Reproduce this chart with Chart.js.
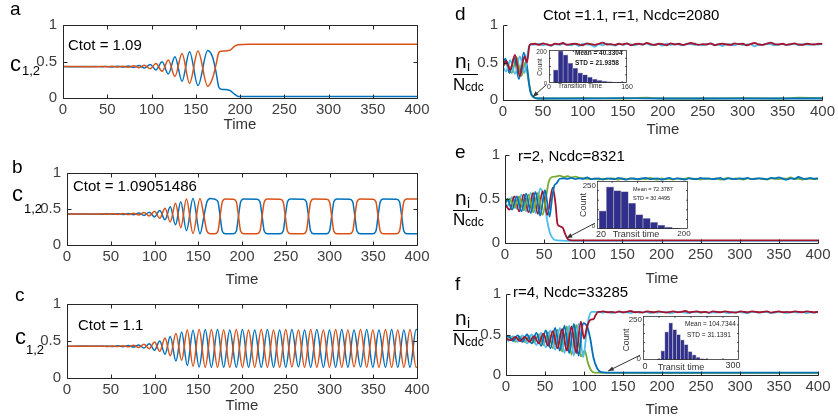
<!DOCTYPE html>
<html><head><meta charset="utf-8">
<script src="https://cdn.jsdelivr.net/npm/chart.js@4.4.1/dist/chart.umd.min.js"></script>
<style>
html,body{margin:0;padding:0;background:#fff;}
#root{position:relative;width:838px;height:419px;overflow:hidden;background:#fff;font-family:'Liberation Sans',Arial,Helvetica,sans-serif;}
.t{position:absolute;white-space:nowrap;color:#000;}
canvas{position:absolute;}
</style></head><body><div id="root"></div>
<script>
// ---------------- DATA ----------------
const xTicks = [0,50,100,150,200,250,300,350,400];
const yTicks = [0,0.5,1];

// Panel a (Ctot = 1.09)
const aT      = [0,20,26,32,38,44,50,56,62,68,74,80,86,92,98.5,105,112,119,126.5,134.5,143,152.5,163.5,169,173,176,179,184,189,194,198,210,400];
const aBlue   = [.43,.429,.4315,.428,.4325,.427,.433,.426,.435,.424,.438,.419,.445,.41,.46,.385,.495,.33,.565,.23,.635,.17,.65,.56,.35,.15,.12,.115,.1,.05,.022,.02,.02];
const aOrange = [.43,.431,.4285,.432,.4275,.433,.427,.434,.425,.436,.422,.441,.415,.45,.40,.472,.365,.52,.295,.61,.2,.645,.16,.27,.46,.62,.64,.645,.655,.71,.73,.735,.735];

// Panel b (Ctot = 1.09051486)
const bT = [0,22,28,34,40,46,52,58,64,70,76,82,88,94,100,106,112,118,124,130,136.5,144,152,156.5,160,164,
  169,172.5,175,177.5,181, 190,193.5,196,198.5,202, 217,220.5,223,225.5,229, 243.5,247,249.5,252,255.5,
  270,273.5,276,278.5,282, 296.5,300,302.5,305,308.5, 323,326.5,329,331.5,335, 349.5,353,355.5,358,361.5,
  376.5,380,382.5,385,388.5, 400];
const bBlue = [.43,.431,.4285,.432,.4275,.433,.426,.435,.424,.438,.42,.444,.41,.456,.39,.48,.35,.53,.28,.6,.2,.645,.155,.40,.6,.645,
  .635,.6,.4,.19,.155, .155,.19,.4,.6,.64, .635,.6,.4,.19,.155, .155,.19,.4,.6,.64,
  .635,.6,.4,.19,.155, .155,.19,.4,.6,.64, .635,.6,.4,.19,.155, .155,.19,.4,.6,.64,
  .635,.6,.4,.19,.155, .155];
const bOrange = [.43,.429,.4315,.428,.4325,.427,.434,.425,.436,.422,.44,.416,.45,.404,.47,.37,.51,.32,.58,.24,.64,.16,.645,.40,.19,.155,
  .155,.19,.4,.6,.64, .635,.6,.4,.19,.155, .155,.19,.4,.6,.64, .635,.6,.4,.19,.155,
  .155,.19,.4,.6,.64, .635,.6,.4,.19,.155, .155,.19,.4,.6,.64, .635,.6,.4,.19,.155,
  .155,.19,.4,.6,.64, .64];

// Panel c (Ctot = 1.1)
const cT = [0,22,28,34,40,46,52,58,64,70,76,82,88,94,100,106,112,118,124.5,131,137.5,144,
  151,158,165,172,179,186,193.5,200.5,207.5,214.5,222,229,236,243,250,257,264.5,271.5,278.5,285.5,
  293,300,307,314,321,328,335.5,342.5,349.5,356.5,364,371,378,385,392,399,400];
const cBlue = [.43,.431,.4285,.432,.4275,.433,.426,.435,.423,.439,.418,.447,.405,.464,.375,.50,.32,.56,.23,.62,.17,.645,
  .15,.655,.145,.655,.145,.65,.145,.655,.145,.65,.145,.655,.145,.65,.145,.655,.15,.65,.145,.655,
  .145,.65,.145,.655,.145,.65,.15,.655,.145,.65,.145,.655,.145,.65,.145,.655,.65];
const cOrange = [.43,.429,.4315,.428,.4325,.427,.434,.425,.437,.421,.442,.413,.455,.396,.485,.36,.54,.30,.60,.24,.65,.16,
  .655,.145,.655,.145,.65,.145,.655,.145,.65,.145,.655,.145,.65,.145,.655,.15,.65,.145,.655,.145,
  .65,.145,.655,.145,.65,.15,.655,.145,.65,.145,.655,.145,.65,.145,.655,.145,.15];

// Panel d (r=1)
const dRedT = [0,4,9,15,21,27,30,33,35],       dRedV = [.45,.52,.40,.60,.32,.58,.5,.72,.745];
const dLBT  = [0,4,9,15,21,27,30,33,35],       dLBV  = [.44,.38,.53,.35,.58,.36,.55,.73,.74];
const dGrT  = [0,5,11,17,23,28,32,36,40,45,50,100,150,180,200,250,300,350,370,400];
const dGrV  = [.45,.5,.36,.57,.32,.5,.25,.07,.03,.02,.02,.025,.02,.03,.02,.02,.025,.02,.03,.025];
const dBlT  = [0,3,8,14,20,26,30,34,38,44,55,100,150,200,250,300,350,400];
const dBlV  = [.46,.55,.36,.56,.28,.63,.45,.12,.04,.02,.02,.02,.025,.02,.02,.02,.02,.02];
const dHiStart = 40, hiStep = 5;
const dRedHi = [.75,.735,.755,.74,.73,.75,.745,.76,.735,.745, .75,.74,.73,.755,.745,.735,.75,.765,.74,.745,
  .735,.75,.74,.755,.73,.745,.75,.74,.76,.745, .735,.75,.745,.73,.755,.74,.75,.735,.745,.76,
  .75,.735,.745,.74,.755,.73,.745,.75,.74,.735, .755,.745,.75,.73,.745,.76,.74,.735,.75,.765,
  .745,.74,.75,.735,.745,.755,.74,.735,.75,.745, .74,.75,.745];
const dLBHi = [.74,.75,.73,.745,.72,.745,.735,.75,.74,.73, .745,.72,.75,.74,.735,.71,.745,.73,.75,.74,
  .725,.745,.735,.75,.74,.73,.745,.74,.755,.73, .74,.745,.725,.75,.735,.745,.74,.73,.75,.745,
  .735,.74,.73,.745,.75,.735,.74,.72,.745,.74, .73,.75,.735,.74,.745,.715,.74,.735,.75,.745,
  .73,.74,.745,.735,.74,.75,.73,.745,.74,.735, .745,.74,.75];

// Panel e (r=2)
const eGrT = [0,6,12,18,24,30,36,42,48,53,56,60];
const eGrV = [.45,.5,.4,.53,.37,.55,.35,.57,.32,.55,.7,.75];
const eLBT = [0,3,9,15,21,27,33,39,45,50,54,58,62,67,80,150,250,400];
const eLBV = [.46,.42,.52,.39,.55,.36,.57,.34,.62,.5,.25,.1,.045,.03,.025,.025,.025,.025];
const eRedT = [0,6,12,18,24,30,36,42,48,54,61,64.5,67,70,74,77,81,86,100,150,200,250,300,350,400];
const eRedV = [.44,.38,.53,.36,.55,.35,.57,.33,.59,.32,.63,.45,.22,.19,.17,.1,.04,.03,.03,.03,.03,.03,.03,.03,.03];
const eBlT = [0,3,9,15,21,27,33,39,45,51,57,60,63,66,70];
const eBlV = [.45,.5,.38,.53,.36,.56,.34,.58,.31,.6,.3,.5,.65,.68,.73];
const eGrStart = 65, eBlStart = 75;
const eGrHi = [.755,.765,.75,.76,.745,.755,.74,.735,.73,.725, .735,.72,.73,.725,.735,.73,.72,.735,.725,.73,
  .735,.72,.73,.725,.74,.73,.72,.735,.725,.73, .72,.735,.725,.73,.74,.725,.73,.72,.735,.73,
  .725,.735,.72,.73,.74,.725,.735,.73,.72,.735, .725,.73,.735,.725,.72,.735,.73,.725,.735,.73,
  .745,.725,.73,.72,.735,.73,.725,.73];
const eBlHi = [.735,.73,.74,.725,.735,.73,.745,.725,.73,.735, .72,.735,.73,.725,.74,.73,.72,.735,.73,.725,
  .735,.74,.725,.73,.735,.72,.73,.74,.725,.735, .73,.72,.735,.73,.725,.74,.73,.735,.725,.73,
  .74,.72,.735,.73,.725,.735,.73,.74,.725,.73, .735,.73,.725,.74,.735,.745,.73,.72,.735,.73,
  .75,.735,.725,.74,.73,.735];

// Panel f (r=4)
const fGrT = [0,6,12,18,24,30,36,42,48,54,60,66,72,78,84,90,96,101,105,109,113,200,300,400];
const fGrV = [.44,.47,.41,.475,.405,.48,.4,.5,.37,.53,.33,.56,.29,.6,.25,.62,.23,.3,.15,.06,.03,.025,.025,.025];
const fLBT = [0,3,9,15,21,27,33,39,45,51,57,63,69,75,81,87,93,99,103,106,110];
const fLBV = [.45,.42,.48,.41,.49,.39,.5,.37,.52,.34,.55,.31,.58,.27,.61,.24,.63,.22,.5,.7,.78];
const fRedT = [0,6,12,18,24,30,36,42,48,54,60,66,72,78,84,90,96,100,104,108,112,115,118];
const fRedV = [.45,.43,.47,.42,.47,.41,.48,.39,.51,.36,.54,.33,.57,.3,.6,.27,.66,.45,.6,.68,.69,.74,.78];
const fBlT = [0,3,9,15,21,27,33,39,45,51,57,63,69,75,81,87,93,99,104,108,112,117,122,130,250,400];
const fBlV = [.46,.48,.42,.49,.41,.5,.39,.52,.36,.55,.33,.58,.3,.61,.27,.63,.24,.64,.6,.45,.22,.08,.035,.03,.03,.03];
const fRedStart = 120, fLBStart = 115;
const fRedHi = [.78,.785,.775,.78,.77,.785,.775,.78,.79,.775, .78,.77,.785,.78,.775,.785,.78,.77,.78,.785,
  .775,.78,.79,.775,.78,.785,.775,.78,.77,.785, .78,.775,.785,.78,.775,.77,.785,.78,.775,.785,
  .78,.775,.78,.785,.77,.78,.785,.775,.78,.775, .785,.78,.775,.785,.78,.775,.78];
const fLBHi = [.78,.775,.77,.78,.765,.775,.78,.77,.775,.765, .78,.77,.775,.78,.765,.775,.77,.78,.775,.765,
  .77,.78,.775,.77,.765,.78,.775,.77,.78,.765, .775,.77,.78,.775,.765,.77,.78,.775,.77,.765,
  .78,.775,.77,.78,.775,.765,.77,.78,.775,.765, .78,.775,.77,.78,.765,.775,.77,.78];

// Insets (histograms of transition times)
const dBinCenters = [14,24,34,44,54,64,74,84,94,104,114,124,134,144,154];
const dCounts     = [80,195,170,120,90,62,50,36,24,16,12,8,6,4,2];
const eBinCenters = [31.25,45.75,60.25,74.75,89.25,103.75,118.25,132.75,147.25,161.75,176.25];
const eCounts     = [95,220,200,195,135,75,55,35,20,10,4];
const fBinCenters = [50,62,74,86.5,99,111,123,135,147.5,160,172,184,196];
const fCounts     = [5,52,160,211,173,144,115,87,48,29,15,8,4];

// Arrows (tail time, tail value, head time, head value)
const dArrow = [54,.2,37.5,.044];
const eArrow = [115,.226,78.8,.057];
const fArrow = [172,.245,131,.05];

// ---------------- RENDER ----------------
const FONT = "'Liberation Sans', Arial, Helvetica, sans-serif";
const BLUE='#0072BD', ORANGE='#D95319', LBLUE='#4DBEEE', RED='#A2142F', GREEN='#77AC30';
const root = document.getElementById('root');

function pts(ts, vs){ return ts.map((t,i)=>({x:t,y:vs[i]})); }
function hi(start, vs){ return vs.map((v,i)=>({x:start+i*hiStep,y:v})); }
function ds(data,color,lw){ return {data, borderColor:color, borderWidth:lw, fill:false, pointRadius:0, cubicInterpolationMode:'monotone'}; }

function matAxes(boxed, arrow){
  return {id:'matAxes', afterDatasetsDraw(ch){
    const ctx=ch.ctx, a=ch.chartArea, xs=ch.scales.x, ys=ch.scales.y;
    ctx.save();
    ctx.strokeStyle='#262626'; ctx.lineWidth=1;
    const L=Math.round(a.left)+.5, R=Math.round(a.right)+.5, T=Math.round(a.top)+.5, B=Math.round(a.bottom)+.5;
    ctx.beginPath();
    if(boxed){ ctx.rect(L,T,R-L,B-T); } else { ctx.moveTo(L,T); ctx.lineTo(L,B); ctx.lineTo(R,B); }
    const tl=4;
    xs.ticks.forEach(t=>{ const p=Math.round(xs.getPixelForValue(t.value))+.5;
      ctx.moveTo(p,B); ctx.lineTo(p,B-tl); if(boxed){ ctx.moveTo(p,T); ctx.lineTo(p,T+tl);} });
    ys.ticks.forEach(t=>{ const p=Math.round(ys.getPixelForValue(t.value))+.5;
      ctx.moveTo(L,p); ctx.lineTo(L+tl,p); if(boxed){ ctx.moveTo(R,p); ctx.lineTo(R-tl,p);} });
    ctx.stroke();
    if(arrow){
      const x0=xs.getPixelForValue(arrow[0]), y0=ys.getPixelForValue(arrow[1]);
      const x1=xs.getPixelForValue(arrow[2]), y1=ys.getPixelForValue(arrow[3]);
      ctx.strokeStyle='#333'; ctx.fillStyle='#333'; ctx.lineWidth=1;
      ctx.beginPath(); ctx.moveTo(x0,y0); ctx.lineTo(x1,y1); ctx.stroke();
      const ang=Math.atan2(y1-y0,x1-x0), s=6;
      ctx.beginPath(); ctx.moveTo(x1,y1);
      ctx.lineTo(x1-s*Math.cos(ang-0.4), y1-s*Math.sin(ang-0.4));
      ctx.lineTo(x1-s*Math.cos(ang+0.4), y1-s*Math.sin(ang+0.4));
      ctx.closePath(); ctx.fill();
    }
    ctx.restore();
  }};
}

function mainPanel(o){
  const c=document.createElement('canvas');
  c.width=o.w; c.height=o.h; c.style.left=o.left+'px'; c.style.top=o.top+'px';
  c.style.width=o.w+'px'; c.style.height=o.h+'px';
  root.appendChild(c);
  const yw=o.plotL-o.left, padT=o.plotT-o.top, padR=o.left+o.w-o.plotR, xh=o.top+o.h-o.plotB;
  new Chart(c,{type:'line', data:{datasets:o.datasets},
    options:{responsive:false, animation:false, devicePixelRatio:1, events:[],
      layout:{autoPadding:false, padding:{top:padT,right:padR,left:0,bottom:0}},
      plugins:{legend:{display:false}, tooltip:{enabled:false}},
      elements:{point:{radius:0}},
      scales:{
        x:{type:'linear', min:0, max:400, afterFit(s){s.height=xh;},
           afterBuildTicks(s){ s.ticks = xTicks.map(v=>({value:v})); },
           grid:{display:false, drawTicks:false}, border:{display:false},
           ticks:{autoSkip:false, maxRotation:0, padding:o.xpad, color:'#404040', font:{family:FONT,size:o.fs}}},
        y:{type:'linear', min:0, max:1, afterFit(s){s.width=yw;},
           afterBuildTicks(s){ s.ticks = yTicks.map(v=>({value:v})); },
           grid:{display:false, drawTicks:false}, border:{display:false},
           ticks:{padding:o.ypad, color:'#404040', font:{family:FONT,size:o.fs}, callback:v=>String(v)}}
      }},
    plugins:[matAxes(o.boxed,o.arrow)]});
}

function boxTicks(xt,yt){
  return {id:'bt', afterDatasetsDraw(ch){
    const ctx=ch.ctx, a=ch.chartArea, x=ch.scales.x, y=ch.scales.y;
    ctx.save(); ctx.strokeStyle='#333'; ctx.lineWidth=0.8;
    ctx.strokeRect(a.left+.5,a.top+.5,a.right-a.left-1,a.bottom-a.top-1);
    ctx.beginPath();
    xt.forEach(v=>{const p=x.getPixelForValue(v); ctx.moveTo(p,a.bottom); ctx.lineTo(p,a.bottom-2); ctx.moveTo(p,a.top); ctx.lineTo(p,a.top+2);});
    yt.forEach(v=>{const p=y.getPixelForValue(v); ctx.moveTo(a.left,p); ctx.lineTo(a.left+2,p); ctx.moveTo(a.right,p); ctx.lineTo(a.right-2,p);});
    ctx.stroke(); ctx.restore();
  }};
}

function inset(o){
  const c=document.createElement('canvas');
  c.width=o.w; c.height=o.h; c.style.left=o.left+'px'; c.style.top=o.top+'px';
  c.style.width=o.w+'px'; c.style.height=o.h+'px'; c.style.background='#fff';
  root.appendChild(c);
  new Chart(c,{type:'bar',
    data:{datasets:[{data:pts(o.centers,o.counts), backgroundColor:'#30308c', borderColor:'#a8a8c0', borderWidth:0.7, barPercentage:1, categoryPercentage:1}]},
    options:{responsive:false, animation:false, devicePixelRatio:1, events:[],
      layout:{autoPadding:false, padding:0},
      plugins:{legend:{display:false}, tooltip:{enabled:false}},
      scales:{x:{type:'linear', min:o.xmin, max:o.xmax, display:false, offset:false},
              y:{min:0, max:o.ymax, display:false}}},
    plugins:[boxTicks(o.xt,o.yt)]});
}

function txt(x, base, s, size, o={}){
  const d=document.createElement('div'); d.className='t';
  d.textContent=s; d.style.fontSize=size+'px'; d.style.lineHeight=size+'px';
  d.style.top=(base-0.8465*size)+'px';
  if(o.center){ d.style.left=x+'px'; d.style.transform='translateX(-50%)'; }
  else if(o.right){ d.style.right=(838-x)+'px'; }
  else d.style.left=x+'px';
  if(o.bold) d.style.fontWeight='bold';
  if(o.color) d.style.color=o.color;
  root.appendChild(d);
}
function rot(cx, cy, s, size, color){
  const d=document.createElement('div'); d.className='t';
  d.textContent=s; d.style.fontSize=size+'px'; d.style.lineHeight=size+'px';
  d.style.left=cx+'px'; d.style.top=cy+'px'; d.style.color=color||'#333';
  d.style.transform='translate(-50%,-50%) rotate(-90deg)';
  root.appendChild(d);
}
function hline(x0,x1,y){
  const d=document.createElement('div'); d.style.position='absolute';
  d.style.left=x0+'px'; d.style.top=y+'px'; d.style.width=(x1-x0)+'px'; d.style.height='0';
  d.style.borderTop='1.3px solid #000'; root.appendChild(d);
}

// Panels a, b, c
mainPanel({left:0,top:0,w:440,h:140,plotL:63,plotT:25,plotR:417,plotB:98,boxed:true,fs:15,xpad:3,ypad:6,
  datasets:[ds(pts(aT,aOrange),ORANGE,1.5), ds(pts(aT,aBlue),BLUE,1.5)]});
mainPanel({left:0,top:140,w:440,h:140,plotL:67,plotT:173,plotR:417,plotB:245,boxed:true,fs:15,xpad:3,ypad:6,
  datasets:[ds(pts(bT,bOrange),ORANGE,1.5), ds(pts(bT,bBlue),BLUE,1.5)]});
mainPanel({left:0,top:280,w:440,h:139,plotL:67,plotT:304,plotR:417,plotB:378,boxed:true,fs:15,xpad:3,ypad:6,
  datasets:[ds(pts(cT,cOrange),ORANGE,1.5), ds(pts(cT,cBlue),BLUE,1.5)]});

// Panels d, e, f
mainPanel({left:421,top:0,w:417,h:140,plotL:503,plotT:25,plotR:823,plotB:100,boxed:false,fs:15,xpad:3,ypad:5,arrow:dArrow,
  datasets:[ds(pts(dRedT,dRedV).concat(hi(dHiStart,dRedHi)),RED,1.8),
            ds(pts(dLBT,dLBV).concat(hi(dHiStart,dLBHi)),LBLUE,1.8),
            ds(pts(dBlT,dBlV),BLUE,1.8), ds(pts(dGrT,dGrV),GREEN,1.8)]});
mainPanel({left:421,top:140,w:417,h:140,plotL:505,plotT:155,plotR:818,plotB:243,boxed:false,fs:15,xpad:3,ypad:5,arrow:eArrow,
  datasets:[ds(pts(eBlT,eBlV).concat(hi(eBlStart,eBlHi)),BLUE,1.8),
            ds(pts(eGrT,eGrV).concat(hi(eGrStart,eGrHi)),GREEN,1.8),
            ds(pts(eRedT,eRedV),RED,1.8), ds(pts(eLBT,eLBV),LBLUE,1.8)]});
mainPanel({left:421,top:280,w:417,h:139,plotL:506,plotT:293,plotR:818,plotB:375,boxed:false,fs:15,xpad:3,ypad:5,arrow:fArrow,
  datasets:[ds(pts(fRedT,fRedV).concat(hi(fRedStart,fRedHi)),RED,1.8),
            ds(pts(fBlT,fBlV),BLUE,1.8),
            ds(pts(fLBT,fLBV).concat(hi(fLBStart,fLBHi)),LBLUE,1.8),
            ds(pts(fGrT,fGrV),GREEN,1.8)]});

// Insets
inset({left:549,top:50,w:78,h:33,xmin:0,xmax:160,ymax:200,centers:dBinCenters,counts:dCounts,xt:[50,100,150],yt:[50,100,150]});
inset({left:597,top:181,w:91,h:48,xmin:20,xmax:200,ymax:250,centers:eBinCenters,counts:eCounts,xt:[50,100,150],yt:[50,100,150,200]});
inset({left:643,top:316,w:96,h:44,xmin:0,xmax:300,ymax:250,centers:fBinCenters,counts:fCounts,xt:[50,100,150,200,250],yt:[50,100,150,200]});

// Panel letters
txt(10,15,'a',19); txt(12,173,'b',19); txt(15,301,'c',19);
txt(455,20,'d',19); txt(455,158,'e',19); txt(455,290,'f',19);

// Annotations
txt(68,50,'Ctot = 1.09',15); txt(73,191,'Ctot = 1.09051486',15); txt(78,330,'Ctot = 1.1',15);
txt(543,20,'Ctot =1.1, r=1, Ncdc=2080',15); txt(518,161,'r=2, Ncdc=8321',15); txt(513,297,'r=4, Ncdc=33285',15);

// Axis titles
txt(240,129,'Time',15,{center:true,color:'#333'}); txt(242,284,'Time',15,{center:true,color:'#333'}); txt(242,410,'Time',15,{center:true,color:'#333'});
txt(663,134,'Time',15,{center:true,color:'#333'}); txt(662,283,'Time',15,{center:true,color:'#333'}); txt(662,414,'Time',15,{center:true,color:'#333'});

txt(10,72,'c',22); txt(22,75,'1,2',13);
txt(12,202,'c',22); txt(24,213,'1,2',13);
txt(15,345,'c',22); txt(26,354,'1,2',13);

txt(455,68,'n',21); txt(467,71,'i',14); hline(453,478,74); txt(453,90,'N',17); txt(465,91,'cdc',12);
txt(455,205,'n',21); txt(467,208,'i',14); hline(453,478,210); txt(453,225,'N',17); txt(465,226,'cdc',12);
txt(455,325,'n',21); txt(467,328,'i',14); hline(453,478,330); txt(453,345,'N',17); txt(465,346,'cdc',12);

// Inset texts
txt(547,55,'200',6.5,{right:true,color:'#333'}); txt(547,85,'0',6,{right:true,color:'#333'});
rot(540,67,'Count',6.5); txt(549,89,'0',7,{center:true,color:'#333'}); txt(627,89,'160',7,{center:true,color:'#333'});
txt(580,89,'Transition Time',6.5,{center:true,color:'#333'});
txt(575,56,'Mean = 40.3304',6.5,{bold:true,color:'#222'}); txt(575,66,'STD = 21.9358',6.5,{bold:true,color:'#222'});

txt(596,189,'250',8,{right:true,color:'#333'}); txt(595,228,'0',6,{right:true,color:'#333'});
rot(583,205,'Count',9); txt(601,238,'20',9,{center:true,color:'#333'}); txt(684,237,'200',8,{center:true,color:'#333'});
txt(636,238,'Transit time',9,{center:true,color:'#333'});
txt(633,192,'Mean = 72.3787',5.5,{color:'#222'}); txt(633,201,'STD = 30.4495',5.5,{color:'#222'});

txt(642,323,'250',8,{right:true,color:'#333'}); txt(641,362,'0',8,{right:true,color:'#333'});
rot(626,340,'Count',8.5); txt(645,370,'0',9,{center:true,color:'#333'}); txt(733,369,'300',9,{center:true,color:'#333'});
txt(681,371,'Transit time',9,{center:true,color:'#333'});
txt(685,327,'Mean = 104.7344',6.5,{color:'#222'}); txt(687,338,'STD = 31.1391',6.5,{color:'#222'});
</script></body></html>
